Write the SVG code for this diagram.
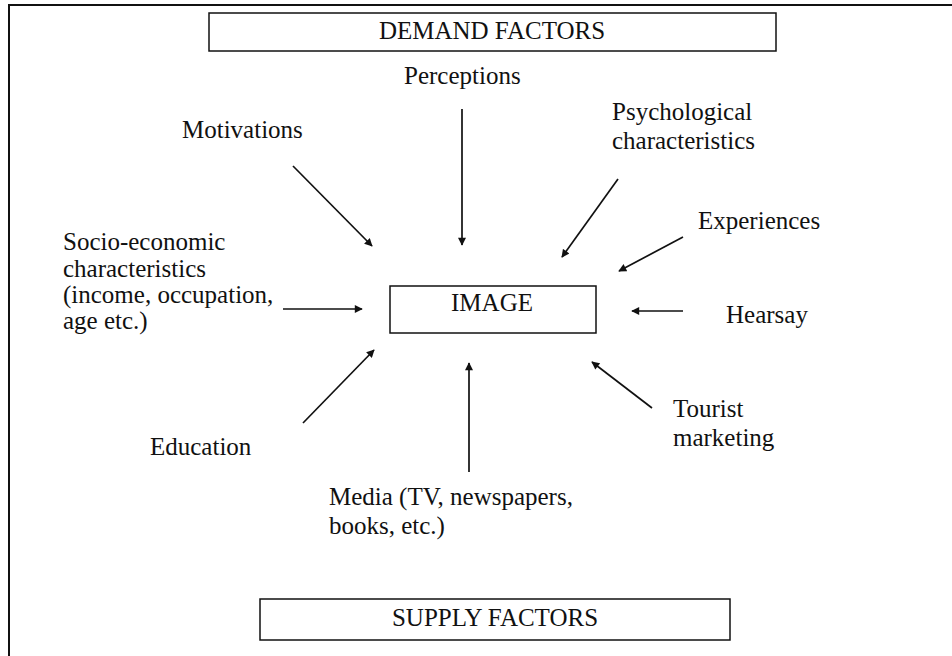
<svg xmlns="http://www.w3.org/2000/svg" width="952" height="656" viewBox="0 0 952 656">
<style>
text{font-family:"Liberation Serif","Times New Roman",serif;font-size:25px;fill:#111}
.box{fill:none;stroke:#111;stroke-width:1.5}
.c line{stroke:#111;stroke-width:1.7;marker-end:url(#ah)}
.mid{text-anchor:middle}
</style>
<defs>
<marker id="ah" viewBox="0 0 10 10" refX="9" refY="5" markerWidth="9" markerHeight="8" markerUnits="userSpaceOnUse" orient="auto">
<path d="M0,0 L10,5 L0,10 z" fill="#111"/>
</marker>
</defs>
<rect width="952" height="656" fill="#fff"/>
<path d="M9,656 V5 H952" fill="none" stroke="#111" stroke-width="2"/>
<g id="demand"><rect class="box" x="209" y="13" width="567" height="38"/><text class="mid" x="492" y="39">DEMAND FACTORS</text></g>
<g id="image"><rect class="box" x="390" y="286" width="206" height="47"/><text class="mid" x="492" y="311">IMAGE</text></g>
<g id="supply"><rect class="box" x="260" y="599" width="470" height="41"/><text class="mid" x="495" y="626">SUPPLY FACTORS</text></g>
<g id="perceptions"><text x="404" y="84">Perceptions</text></g>
<g id="motivations"><text x="182" y="138">Motivations</text></g>
<g id="psychological"><text x="612" y="120">Psychological</text><text x="612" y="149">characteristics</text></g>
<g id="experiences"><text x="698" y="229">Experiences</text></g>
<g id="socio"><text x="63" y="250">Socio-economic</text><text x="63" y="277">characteristics</text><text x="63" y="303">(income, occupation,</text><text x="63" y="329">age etc.)</text></g>
<g id="hearsay"><text x="726" y="323">Hearsay</text></g>
<g id="tourist"><text x="673" y="417">Tourist</text><text x="673" y="446">marketing</text></g>
<g id="education"><text x="150" y="455">Education</text></g>
<g id="media"><text x="329" y="505">Media (TV, newspapers,</text><text x="329" y="534">books, etc.)</text></g>
<g id="connectors" class="c">
<line x1="293" y1="166" x2="372" y2="246"/>
<line x1="462" y1="109" x2="462" y2="245"/>
<line x1="618" y1="179" x2="562" y2="257"/>
<line x1="683" y1="237" x2="619" y2="271"/>
<line x1="283" y1="309" x2="362" y2="309"/>
<line x1="683" y1="311" x2="632" y2="311"/>
<line x1="652" y1="408" x2="592" y2="362"/>
<line x1="469" y1="472" x2="469" y2="363"/>
<line x1="303" y1="423" x2="374" y2="350"/>
</g>
</svg>
